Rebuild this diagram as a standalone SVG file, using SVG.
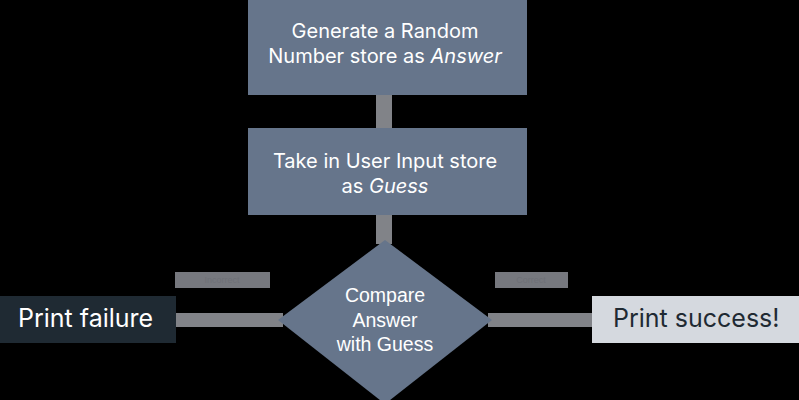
<svg xmlns="http://www.w3.org/2000/svg" width="799" height="400" viewBox="0 0 799 400">
<style>
.proc{fill:#66758b}
.conn{fill:#818388}
.lbl{fill:#76787e}
.t{font-family:Inter,"Liberation Sans",sans-serif;fill:#ffffff;text-anchor:middle;font-size:20px}
.d{font-family:"Liberation Sans",Arial,sans-serif;fill:#ffffff;text-anchor:middle;font-size:19.5px}
.lt{font-family:"Liberation Sans",sans-serif;font-size:9px;fill:#6e7077;text-anchor:middle}
.big{font-family:Inter,"Liberation Sans",sans-serif;font-size:25px}
</style>
<rect width="799" height="400" fill="#000000"/>
<g id="connectors">
<rect class="conn" x="376" y="95" width="16" height="34"/>
<rect class="conn" x="376" y="214" width="16" height="30"/>
<rect class="conn" x="175" y="313" width="108" height="14"/>
<rect class="conn" x="488" y="313" width="105" height="14"/>
<g id="label-false"><rect class="lbl" x="175" y="272" width="95" height="16"/><text class="lt" x="222" y="283">Incorrect</text></g>
<g id="label-true"><rect class="lbl" x="495" y="272" width="73" height="16"/><text class="lt" x="531" y="283">Correct</text></g>
</g>
<g id="generate">
<rect class="proc" x="248" y="0" width="279" height="95"/>
<text class="t" x="385" y="38">Generate a Random</text>
<text class="t" x="385" y="63">Number store as <tspan font-style="italic">Answer</tspan></text>
</g>
<g id="input">
<rect class="proc" x="248" y="128" width="279" height="87"/>
<text class="t" x="385" y="168">Take in User Input store</text>
<text class="t" x="385" y="193">as <tspan font-style="italic">Guess</tspan></text>
</g>
<g id="compare">
<polygon class="proc" points="385,240 492,320 385,404 278,320"/>
<text class="d" x="385" y="302">Compare</text>
<text class="d" x="385" y="327">Answer</text>
<text class="d" x="385" y="351">with Guess</text>
</g>
<g id="failure">
<rect x="0" y="296" width="176" height="47" fill="#1f2a33"/>
<text class="big" x="18" y="327" fill="#ffffff">Print failure</text>
</g>
<g id="success">
<rect x="592" y="296" width="207" height="47" fill="#d5d9df"/>
<text class="big" x="613" y="327" fill="#1f2a33">Print success!</text>
</g>
</svg>
